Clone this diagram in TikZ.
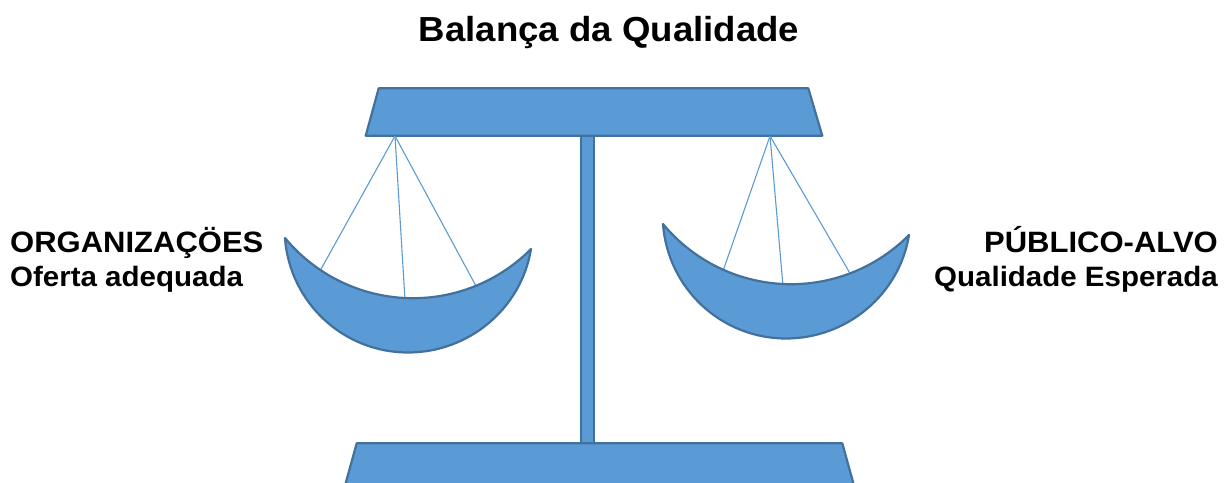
\documentclass[tikz,border=0pt]{standalone}
\usepackage{fontspec}
\setmainfont{Liberation Sans}
\definecolor{panblue}{RGB}{91,155,213}
\definecolor{edgeblue}{RGB}{65,113,156}
\tikzset{
  part/.style={fill=panblue, draw=edgeblue, line width=2.2pt, line join=round},
  cord/.style={draw=panblue, line width=1.1pt},
  heading/.style={font=\fontsize{36.6}{40}\selectfont\bfseries, inner sep=0pt, yscale=0.95},
  bigtext/.style={font=\fontsize{31}{34}\selectfont\bfseries, inner sep=0pt, yscale=0.95},
  smalltext/.style={font=\fontsize{29.5}{32}\selectfont\bfseries, inner sep=0pt, yscale=0.95}
}
\begin{document}
\begin{tikzpicture}[x=1pt, y=-1pt]
\useasboundingbox (0,0) rectangle (1225,482);
\node[heading, anchor=base] (title) at (609,41) {Balança da Qualidade};
\draw[part] (581,135.7) rectangle (594.3,443.3);
\draw[part] (378.7,88.3) -- (808.3,88.3) -- (822.3,135.7) -- (365.7,135.7) -- cycle;
\draw[part] (356.7,443.3) -- (842.3,443.3) -- (858,500) -- (341,500) -- cycle;
\coordinate (hookL) at (395,136);
\coordinate (hookR) at (770,136);
\coordinate (endL1) at (320,271);
\coordinate (endL2) at (405,300);
\coordinate (endL3) at (476,286);
\coordinate (endR1) at (723,271);
\coordinate (endR2) at (783,286);
\coordinate (endR3) at (851,275);
\foreach \i in {1,2,3} {
  \draw[cord] (hookL) -- (endL\i);
  \draw[cord] (hookR) -- (endR\i);
}
\draw[part] (285,238) .. controls (316.5,276.1) and (363.5,298.2) .. (413,298.2) .. controls (457.3,298.2) and (499.8,280.5) .. (531,249) .. controls (521.3,308.8) and (468.6,352.5) .. (408,352.5) .. controls (343.3,352.5) and (289.7,302.5) .. (285,238) -- cycle;
\draw[part, shift={(378,-14)}] (285,238) .. controls (316.5,276.1) and (363.5,298.2) .. (413,298.2) .. controls (457.3,298.2) and (499.8,280.5) .. (531,249) .. controls (521.3,308.8) and (468.6,352.5) .. (408,352.5) .. controls (343.3,352.5) and (289.7,302.5) .. (285,238) -- cycle;
\node[bigtext, anchor=base west] (orgs) at (10,252) {ORGANIZAÇÖES};
\node[smalltext, anchor=base west] (offer) at (10,286) {Oferta adequada};
\node[bigtext, anchor=base east] (public) at (1218,252) {PÚBLICO-ALVO};
\node[smalltext, anchor=base east] (expected) at (1218,286) {Qualidade Esperada};
\end{tikzpicture}
\end{document}
